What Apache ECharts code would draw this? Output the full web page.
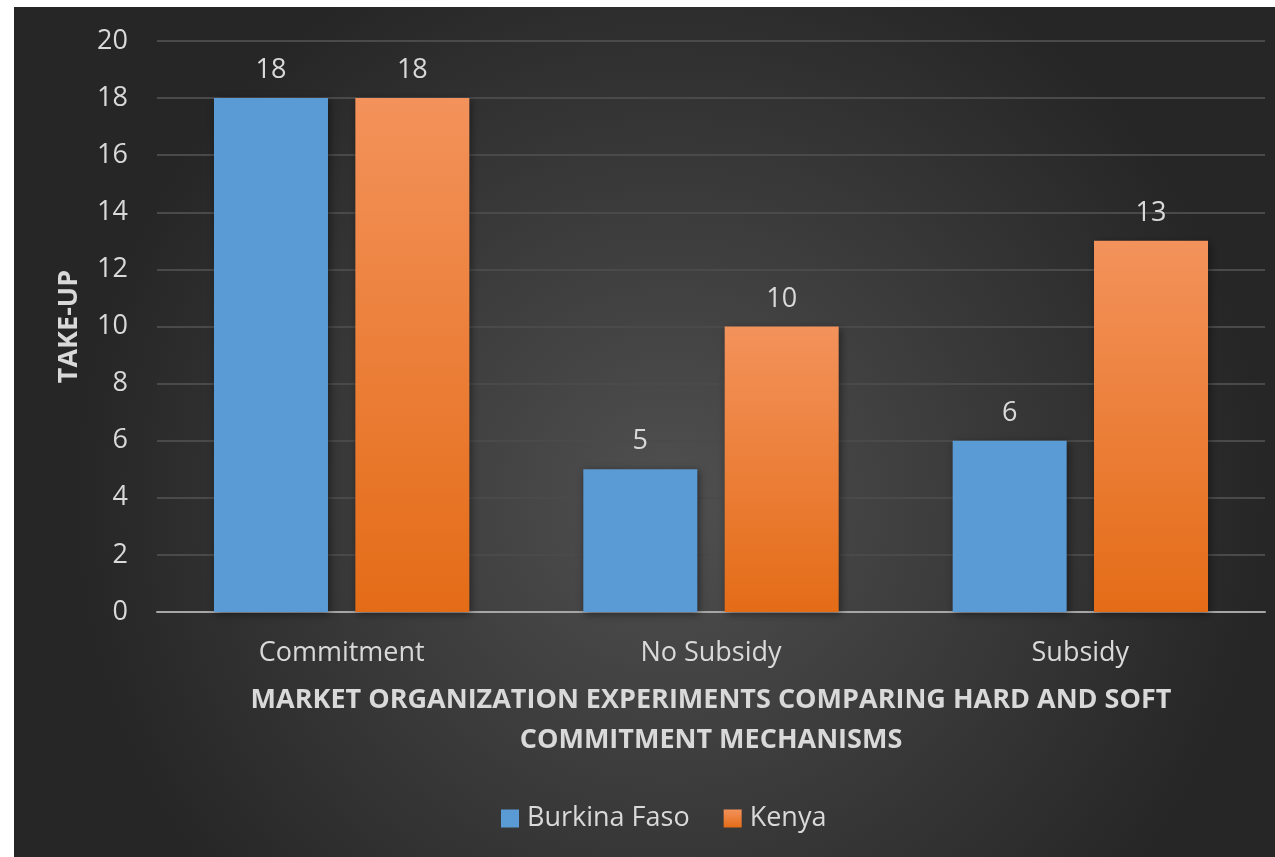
<!DOCTYPE html>
<html>
<head>
<meta charset="utf-8">
<script src="https://cdn.jsdelivr.net/npm/echarts@6/dist/echarts.min.js"></script>
<style>
  html, body { margin: 0; padding: 0; background: #fff; }
  #chart { position: absolute; left: 14px; top: 7px; width: 1261px; height: 850px; }
</style>
</head>
<body>
<div id="chart"></div>
<script>
const categories = ['Commitment', 'No Subsidy', 'Subsidy'];
const burkinaFaso = [18, 5, 6];
const kenya = [18, 10, 13];
const seriesNames = ['Burkina Faso', 'Kenya'];

const font = '"Open Sans", Lato, sans-serif';
const textColor = '#d9d9d9';

const orangeFill = new echarts.graphic.LinearGradient(0, 0, 0, 1, [
  { offset: 0, color: '#f3925b' },
  { offset: 1, color: '#e46c17' }
]);

// 基于准备好的dom，初始化echarts实例
let myChart = echarts.init(document.getElementById('chart'));
myChart.setOption({
  backgroundColor: new echarts.graphic.RadialGradient(0.52, 0.58, 0.7, [
    { offset: 0, color: '#505050' },
    { offset: 1, color: '#262626' }
  ]),
  textStyle: { fontFamily: font },
  grid: {
    left: 143,
    right: 10,
    top: 34,
    bottom: 245
  },
  legend: {
    bottom: 20,
    left: 482,
    itemWidth: 18,
    itemHeight: 18,
    itemGap: 34,
    icon: 'rect',
    textStyle: { color: textColor, fontSize: 27, fontFamily: font, padding: [0, 0, 0, 3] },
    data: seriesNames
  },
  xAxis: {
    type: 'category',
    data: categories,
    axisTick: { show: false },
    axisLine: { lineStyle: { color: '#a6a6a6', width: 2 } },
    axisLabel: { color: textColor, fontSize: 27, margin: 28, fontFamily: font },
    name: 'MARKET ORGANIZATION EXPERIMENTS COMPARING HARD AND SOFT\nCOMMITMENT MECHANISMS',
    nameLocation: 'middle',
    nameGap: 68,
    nameTextStyle: {
      color: textColor,
      fontSize: 27,
      fontWeight: 'bold',
      lineHeight: 40,
      align: 'center',
      fontFamily: font
    }
  },
  yAxis: {
    type: 'value',
    min: 0,
    max: 20,
    interval: 2,
    axisLine: { show: false },
    axisTick: { show: false },
    splitLine: { lineStyle: { color: '#4a4a4a', width: 2 } },
    axisLabel: { color: textColor, fontSize: 27, margin: 29, fontFamily: font },
    name: 'TAKE-UP',
    nameLocation: 'middle',
    nameGap: 74,
    nameRotate: 90,
    nameTextStyle: { color: textColor, fontSize: 27, fontWeight: 'bold', fontFamily: font }
  },
  series: [
    {
      name: seriesNames[0],
      type: 'bar',
      data: burkinaFaso,
      barWidth: 114,
      barGap: '24%',
      itemStyle: {
        color: '#5b9bd5',
        shadowColor: 'rgba(0,0,0,0.45)',
        shadowBlur: 8,
        shadowOffsetX: 2,
        shadowOffsetY: 2
      },
      label: { show: true, position: 'top', distance: 14, color: textColor, fontSize: 27, fontFamily: font }
    },
    {
      name: seriesNames[1],
      type: 'bar',
      data: kenya,
      barWidth: 114,
      itemStyle: {
        color: orangeFill,
        shadowColor: 'rgba(0,0,0,0.45)',
        shadowBlur: 8,
        shadowOffsetX: 2,
        shadowOffsetY: 2
      },
      label: { show: true, position: 'top', distance: 14, color: textColor, fontSize: 27, fontFamily: font }
    }
  ]
});
</script>
</body>
</html>
